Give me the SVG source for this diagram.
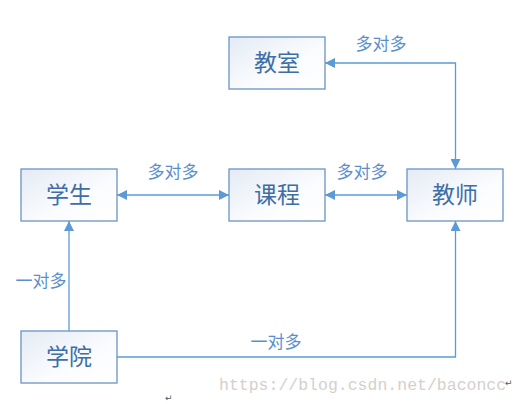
<svg xmlns="http://www.w3.org/2000/svg" width="520" height="404" viewBox="0 0 520 404">
<style>
.box{fill:url(#g);stroke:#6a94c4;stroke-width:1.3}
.nt{font-family:"Noto Sans CJK SC",sans-serif;font-size:23px;fill:#3e6ea8;text-anchor:middle}
.lb{font-family:"Noto Sans CJK SC",sans-serif;font-size:17px;fill:#5b8fcc;text-anchor:middle}
.c{fill:none;stroke:#5b9bd5;stroke-width:1.3}
.wm{font-family:"Liberation Mono",monospace;font-size:16.5px;fill:#d4d0cc}
.rm{font-family:"DejaVu Sans",sans-serif;font-size:9px;fill:#555}
</style>
<defs>
<linearGradient id="g" x1="0" y1="0" x2="1" y2="1">
<stop offset="0" stop-color="#e4ebf5"/>
<stop offset="0.6" stop-color="#fbfcfe"/>
<stop offset="1" stop-color="#ffffff"/>
</linearGradient>
<marker id="a" viewBox="0 0 10 10" refX="10" refY="5" markerWidth="10" markerHeight="10" markerUnits="userSpaceOnUse" orient="auto-start-reverse">
<path d="M0,0 L10,5 L0,10 z" fill="#5b9bd5"/>
</marker>
</defs>
<rect width="520" height="404" fill="#fff"/>
<g id="connectors">
<path class="c" d="M325,63 H455.5 V169" marker-start="url(#a)" marker-end="url(#a)"/>
<path class="c" d="M117,195 H229" marker-start="url(#a)" marker-end="url(#a)"/>
<path class="c" d="M325,195 H407" marker-start="url(#a)" marker-end="url(#a)"/>
<path class="c" d="M69,331 V221" marker-end="url(#a)"/>
<path class="c" d="M117,357 H455.5 V221" marker-end="url(#a)"/>
<text class="lb" x="381" y="50">多对多</text>
<text class="lb" x="173" y="178">多对多</text>
<text class="lb" x="362" y="178">多对多</text>
<text class="lb" x="41" y="287">一对多</text>
<text class="lb" x="276" y="348">一对多</text>
</g>
<g id="n-jiaoshi-room"><rect class="box" x="229" y="37" width="96" height="52"/><text class="nt" x="277" y="71">教室</text></g>
<g id="n-xuesheng"><rect class="box" x="21" y="169" width="96" height="52"/><text class="nt" x="69" y="203">学生</text></g>
<g id="n-kecheng"><rect class="box" x="229" y="169" width="96" height="52"/><text class="nt" x="277" y="203">课程</text></g>
<g id="n-jiaoshi"><rect class="box" x="407" y="169" width="96" height="52"/><text class="nt" x="455" y="203">教师</text></g>
<g id="n-xueyuan"><rect class="box" x="21" y="331" width="96" height="52"/><text class="nt" x="69" y="365">学院</text></g>
<text class="wm" x="219" y="390">https://blog.csdn.net/baconcc</text>
<text class="rm" x="505" y="386">↵</text>
<text class="rm" x="165" y="401">↵</text>
</svg>
